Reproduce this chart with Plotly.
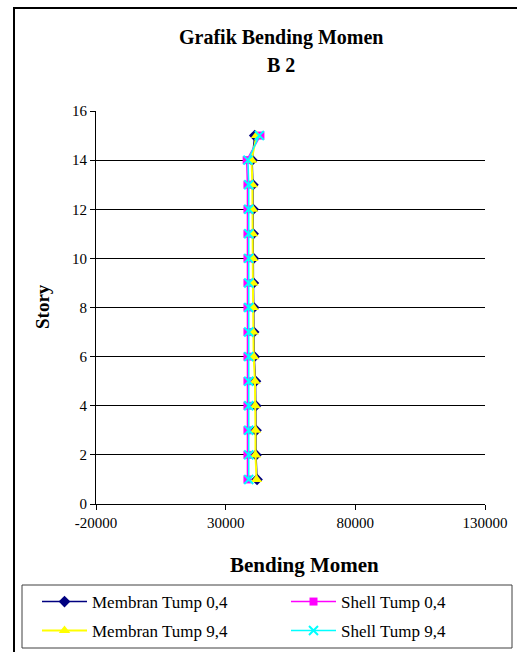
import plotly.graph_objects as go

story = [1, 2, 3, 4, 5, 6, 7, 8, 9, 10, 11, 12, 13, 14, 15]
membran_04 = [42100, 41700, 41700, 41600, 41500, 41000, 40800, 40800, 40700, 40700, 40600, 40600, 40500, 40200, 41200]
shell_04 = [38400, 38400, 38400, 38400, 38400, 38400, 38400, 38400, 38400, 38400, 38400, 38400, 38400, 38100, 43400]
membran_94 = [41900, 41500, 41500, 41400, 41300, 40800, 40600, 40600, 40500, 40500, 40400, 40400, 40300, 40000, 41900]
shell_94 = [38900, 38900, 38900, 38900, 38900, 38900, 38900, 38900, 38900, 38900, 38900, 38900, 38900, 38600, 43000]

x_ticks = [-20000, 30000, 80000, 130000]
y_ticks = [0, 2, 4, 6, 8, 10, 12, 14, 16]

FONT = "Liberation Serif"

fig = go.Figure()
fig.add_trace(go.Scatter(x=membran_04, y=story, mode="lines+markers", name="Membran Tump 0,4",
                         legend="legend",
                         line=dict(color="#000080", width=1.5),
                         marker=dict(symbol="diamond", size=9, color="#000080")))
fig.add_trace(go.Scatter(x=shell_04, y=story, mode="lines+markers", name="Shell Tump 0,4",
                         legend="legend2",
                         line=dict(color="#FF00FF", width=1.5),
                         marker=dict(symbol="square", size=8, color="#FF00FF")))
fig.add_trace(go.Scatter(x=membran_94, y=story, mode="lines+markers", name="Membran Tump 9,4",
                         legend="legend3",
                         line=dict(color="#FFFF00", width=2),
                         marker=dict(symbol="triangle-up", size=10, color="#FFFF00")))
fig.add_trace(go.Scatter(x=shell_94, y=story, mode="lines+markers", name="Shell Tump 9,4",
                         legend="legend4",
                         line=dict(color="#00FFFF", width=1.5),
                         marker=dict(symbol="x-thin", size=9, color="#00FFFF",
                                     line=dict(color="#00FFFF", width=2))))

L, R, T, B = 96, 485, 111, 504
W, H = 517, 652
pw, ph = R - L, B - T

def px(x):
    return (x - L) / pw

def py(y):
    return (B - y) / ph

def legend_at(xleft, ycenter):
    return dict(orientation="v", xref="paper", yref="paper",
                x=px(xleft), y=py(ycenter), xanchor="left", yanchor="middle",
                font=dict(family=FONT, size=17, color="black"),
                bgcolor="rgba(0,0,0,0)", itemwidth=45)

fig.update_layout(
    width=W, height=H,
    margin=dict(l=L, r=W - R, t=T, b=H - B, autoexpand=False),
    paper_bgcolor="white", plot_bgcolor="white",
    font=dict(family=FONT, size=14, color="black"),
    showlegend=True,
    legend=legend_at(37, 602),
    legend2=legend_at(286, 602),
    legend3=legend_at(37, 631),
    legend4=legend_at(286, 631),
    xaxis=dict(range=[-20000, 130000], tickvals=x_ticks, ticktext=[str(v) for v in x_ticks],
               showgrid=False, zeroline=False, showline=True, linecolor="black", linewidth=1,
               ticks="outside", ticklen=5, tickcolor="black", automargin=False,
               tickfont=dict(family=FONT, size=15)),
    yaxis=dict(range=[0, 16], tickvals=y_ticks,
               showgrid=True, gridcolor="black", gridwidth=1, zeroline=False,
               showline=True, linecolor="black", linewidth=1,
               ticks="outside", ticklen=5, tickcolor="black", automargin=False,
               tickfont=dict(family=FONT, size=15)),
    annotations=[
        dict(text="<b>Grafik Bending Momen</b>", xref="paper", yref="paper", x=px(281), y=py(38),
             showarrow=False, xanchor="center", yanchor="middle", font=dict(family=FONT, size=20)),
        dict(text="<b>B 2</b>", xref="paper", yref="paper", x=px(281), y=py(65),
             showarrow=False, xanchor="center", yanchor="middle", font=dict(family=FONT, size=20)),
        dict(text="<b>Bending Momen</b>", xref="paper", yref="paper", x=px(304), y=py(565),
             showarrow=False, xanchor="center", yanchor="middle", font=dict(family=FONT, size=21)),
        dict(text="<b>Story</b>", xref="paper", yref="paper", x=px(42), y=py(306),
             showarrow=False, xanchor="center", yanchor="middle", textangle=-90,
             font=dict(family=FONT, size=19)),
    ],
    shapes=[
        dict(type="rect", xref="paper", yref="paper", x0=px(14), x1=px(524), y0=py(660), y1=py(8),
             line=dict(color="black", width=2), fillcolor="rgba(0,0,0,0)", layer="below"),
        dict(type="rect", xref="paper", yref="paper", x0=px(22), x1=px(512), y0=py(648), y1=py(585),
             line=dict(color="#404040", width=1), fillcolor="rgba(0,0,0,0)"),
    ],
)

fig.write_html("out.html")
